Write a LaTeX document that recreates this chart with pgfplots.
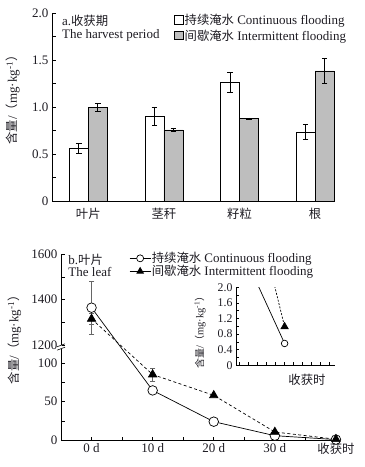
\documentclass[border=0pt]{standalone}
\usepackage{fontspec}
\setmainfont{Liberation Serif}
\newfontfamily\cjk[Scale=0.95]{Noto Sans CJK SC}
\usepackage{pgfplots}
\pgfplotsset{compat=1.18}
\newcommand{\zh}[1]{{\cjk #1}}
\newcommand{\fs}{\fontsize{13bp}{15bp}\selectfont}
\newcommand{\fss}{\fontsize{11.8bp}{13bp}\selectfont}
\newcommand{\ylab}{\zh{含量}/\zh{（}mg·kg\textsuperscript{-1}\zh{）}}
\definecolor{barg}{RGB}{190,190,190}
\definecolor{txt}{RGB}{30,28,35}
\begin{document}
\begin{tikzpicture}
\useasboundingbox (0,0) rectangle (365bp,467bp);
\pgfplotsset{
 common/.style={scale only axis, anchor=south west, tick align=inside,
   axis x line*=bottom, axis y line*=left,
   every tick label/.append style={font=\fs, text=txt},
   major tick length=3.5bp, minor tick length=3.5bp,
   tick style={black, line width=0.5bp}, axis line style={black, line width=0.6bp},
   /pgf/number format/assume math mode=true},
}
% ---------- panel a ----------
\begin{axis}[common, at={(52bp,266bp)}, width=283bp, height=188bp,
 ybar=0pt, bar width=19bp,
 xmin=-0.48, xmax=3.263, ymin=0, ymax=2,
 xtick={0,1,2,3}, xticklabels={\zh{叶片},\zh{茎秆},\zh{籽粒},\zh{根}},
 x tick style={draw=none},
 ytick={0,0.5,1,1.5,2}, yticklabels={0,0.5,1.0,1.5,2.0},
 minor ytick={0.25,0.75,1.25,1.75},
 every axis y label/.style={at={([xshift=-39bp]axis description cs:0,0.553)}, rotate=90, anchor=center, font=\fs, text=txt},
 ylabel={\ylab},
 legend style={at={(axis description cs:0.431,1.005)}, anchor=north west, draw=none, fill=none, inner sep=0pt, font=\fs, text=txt, row sep=1bp, nodes={inner sep=1.5bp}},
 legend cell align=left,
 legend image code/.code={\draw[#1] (0bp,-4.2bp) rectangle (8.4bp,4.2bp);},
 error bars/y dir=both, error bars/y explicit,
 error bars/error bar style={black, line width=0.6bp},
 error bars/error mark options={rotate=90, black, mark size=2.8bp, line width=0.6bp},
]
\addplot[fill=white, draw=black, line width=0.6bp] coordinates {(0,0.559) +- (0,0.053) (1,0.903) +- (0,0.097) (2,1.264) +- (0,0.108) (3,0.733) +- (0,0.078)};
\addplot[fill=barg, draw=black, line width=0.6bp] coordinates {(0,0.995) +- (0,0.044) (1,0.757) +- (0,0.02) (2,0.878) +- (0,0.006) (3,1.384) +- (0,0.133)};
\legend{\zh{持续淹水} Continuous flooding, \zh{间歇淹水} Intermittent flooding}
\node[anchor=base west, inner sep=0pt, font=\fs, text=txt] at (axis description cs:0.035,0.936) {a.\zh{收获期}};
\node[anchor=base west, inner sep=0pt, font=\fs, text=txt] at (axis description cs:0.035,0.862) {The harvest period};
\end{axis}
% ---------- panel b ----------
\begin{axis}[common, name=b, at={(61bp,27bp)}, width=278bp, height=186bp,
 xmin=-0.5, xmax=4.05, ymin=0, ymax=1600,
 y coord trafo/.code={\pgfmathparse{#1<600 ? #1 : 122.9+(#1-1200)*0.2967}},
 ytick={0,50,100,1200,1400,1600}, yticklabels={0,50,100,1200,1400,1600},
 minor ytick={25,75,1300,1500},
 xtick={0,1,2,3,4}, xticklabels={0 d,10 d,20 d,30 d,\zh{收获时}},
 minor xtick={0.5,1.5,2.5,3.5},
 every axis y label/.style={at={([xshift=-46.5bp]axis description cs:0,0.555)}, rotate=90, anchor=center, font=\fs, text=txt},
 ylabel={\ylab},
 legend style={at={(axis description cs:0.245,1.014)}, anchor=north west, draw=none, fill=none, inner sep=0pt, font=\fs, text=txt, row sep=-0.5bp, nodes={inner sep=0.8bp}},
 legend cell align=left,
 legend image code/.code={\draw[mark repeat=2,mark phase=2,#1] plot coordinates {(0bp,0bp) (10.5bp,0bp) (21bp,0bp)};},
]
\addplot[black!60, line width=0.6bp, mark=-, mark size=2.8bp, forget plot] coordinates {(0,1250) (0,1480)};
\addplot[black!60, line width=0.6bp, mark=-, mark size=2.8bp, forget plot] coordinates {(0,1293) (0,1339)};
\addplot[black!60, line width=0.6bp, mark=-, mark size=2.8bp, forget plot] coordinates {(1,76.5) (1,93.5)};
\addplot[black, line width=0.7bp, mark=*, mark options={fill=white, solid}, mark size=4.8bp, forget plot] coordinates {(0,1365) (1,64.4) (2,23.8) (3,5.6) (4,0.56)};
\addplot[black, line width=0.7bp, dash pattern=on 3bp off 2.5bp, mark=triangle*, mark options={fill=black, solid}, mark size=4.8bp, forget plot] coordinates {(0,1316) (1,85) (2,58) (3,10.4) (4,0.99)};
\addlegendimage{black, line width=0.7bp, mark=*, mark options={fill=white}, mark size=3.5bp}
\addlegendimage{black, line width=0.7bp, mark=triangle*, mark options={fill=black}, mark size=3.8bp}
\legend{\zh{持续淹水} Continuous flooding, \zh{间歇淹水} Intermittent flooding}
\node[anchor=base west, inner sep=0pt, font=\fs, text=txt] at (axis description cs:0.026,0.9425) {b.\zh{叶片}};
\node[anchor=base west, inner sep=0pt, font=\fs, text=txt] at (axis description cs:0.026,0.878) {The leaf};
\end{axis}
\fill[white] ([xshift=-1.2bp,yshift=-1.7bp]b.west) rectangle ([xshift=1.2bp,yshift=1.7bp]b.west);
\draw[black, line width=0.6bp] ([xshift=-4bp,yshift=-3.2bp]b.west) -- ++(8bp,3bp);
\draw[black, line width=0.6bp] ([xshift=-4bp,yshift=0.2bp]b.west) -- ++(8bp,3bp);
% ---------- inset ----------
\begin{axis}[common, at={(236bp,101.7bp)}, width=99bp, height=78bp,
 xmin=3.46, xmax=4.56, ymin=0, ymax=2,
 xtick={3.5,3.6,3.7,3.8,3.9,4.0,4.1,4.2,4.3,4.4,4.5}, xticklabels={},
 ytick={0,0.4,0.8,1.2,1.6,2}, yticklabels={0,0.4,0.8,1.2,1.6,2.0},
 minor ytick={0.2,0.6,1,1.4,1.8},
 major tick length=3bp, minor tick length=3bp,
 every tick label/.append style={font=\fss},
 xlabel={\zh{收获时}},
 every axis x label/.style={at={([yshift=-5bp]axis description cs:0.717,0)}, anchor=north, font=\fs, text=txt},
 every axis y label/.style={at={([xshift=-36bp]axis description cs:0,0.45)}, rotate=90, anchor=center, font=\fontsize{10.5bp}{12bp}\selectfont, text=txt},
 ylabel={\ylab},
]
\addplot[black, line width=0.7bp, mark=*, mark options={fill=white, solid}, mark size=3.3bp] coordinates {(3,5.6) (4,0.56)};
\addplot[black, line width=0.7bp, dash pattern=on 2bp off 1.5bp, mark=triangle*, mark options={fill=black, solid}, mark size=4.2bp] coordinates {(3,10.4) (4,0.99)};
\end{axis}
\end{tikzpicture}
\end{document}
